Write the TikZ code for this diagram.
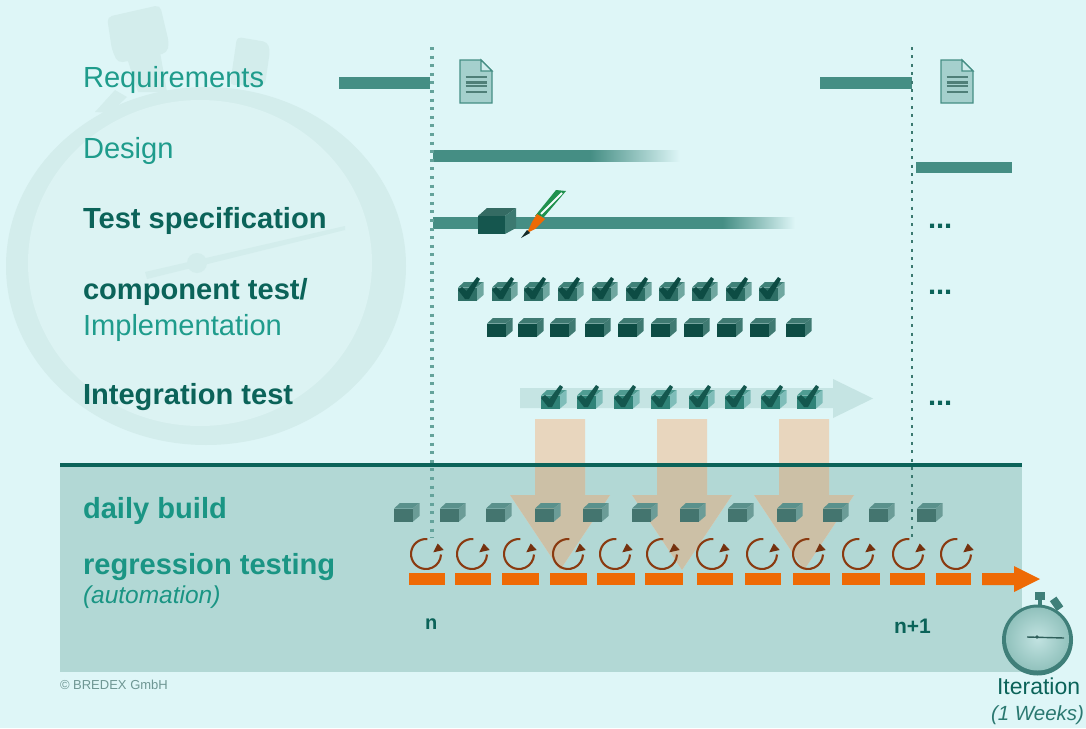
\documentclass[tikz,border=0pt]{standalone}
\usepackage{fontspec}
\setmainfont{Liberation Sans}
\usetikzlibrary{calc}
\definecolor{bgc}{HTML}{DEF6F7}
\definecolor{bandc}{HTML}{B2D8D5}
\definecolor{ringc}{HTML}{D3EDEC}
\definecolor{innerc}{HTML}{DCF3F3}
\definecolor{barc}{HTML}{458E84}
\definecolor{lightt}{HTML}{1F9C8C}
\definecolor{darkt}{HTML}{0B6359}
\definecolor{midt}{HTML}{1A9584}
\definecolor{peach}{HTML}{E8D6BE}
\definecolor{peachd}{HTML}{CCC0A6}
\definecolor{orangec}{HTML}{EE6A05}
\definecolor{brownc}{HTML}{8A3A10}
\definecolor{arrowc}{HTML}{C5E4E3}
\definecolor{implf}{HTML}{0D4C44}
\definecolor{implt}{HTML}{3F7A72}
\definecolor{chkf}{HTML}{2E6F66}
\definecolor{chkt}{HTML}{3F8178}
\definecolor{chks}{HTML}{6FA7A0}
\definecolor{intf}{HTML}{2F8277}
\definecolor{intt}{HTML}{4F9C92}
\definecolor{ints}{HTML}{7FBDB9}
\definecolor{dayf}{HTML}{44756F}
\definecolor{dayt}{HTML}{5A918C}
\definecolor{days}{HTML}{6B9C97}
\definecolor{docf}{HTML}{A5D0CD}
\definecolor{docl}{HTML}{4F7F78}
\definecolor{watchr}{HTML}{3F7F79}
\pgfdeclarehorizontalshading{fadedesign}{100bp}{color(0bp)=(barc); color(56.8bp)=(barc); color(75bp)=(bgc); color(100bp)=(bgc)}
\pgfdeclarehorizontalshading{fadespec}{100bp}{color(0bp)=(barc); color(65bp)=(barc); color(75bp)=(bgc); color(100bp)=(bgc)}
\tikzset{
  lbl/.style={anchor=base west,inner sep=0pt,outer sep=0pt,font=\fontsize{29.1}{30}\selectfont},
  lightlbl/.style={lbl,text=lightt},
  darklbl/.style={lbl,text=darkt,font=\fontsize{29.1}{30}\selectfont\bfseries},
  midlbl/.style={lbl,text=midt,font=\fontsize{29.1}{30}\selectfont\bfseries},
  bar/.style={fill=barc,draw=none},
  orangebar/.style={fill=orangec,draw=none},
}
% x, y (top-left), front, top, side
\newcommand{\bxcube}[5]{%
  \begin{scope}[shift={(#1,#2)}]
    \fill[#4] (0,5.5)--(6,0)--(25.5,0)--(18.5,5.5)--cycle;
    \fill[#5] (18.5,5.5)--(25.5,0)--(25.5,13)--(18.5,19)--cycle;
    \fill[#3] (0,5.5) rectangle (18.5,19);
  \end{scope}}
\newcommand{\bxcheck}[3]{%
  \begin{scope}[shift={(#1,#2)}]
    \fill[#3] (0,8) -- (4,5) -- (8.5,9) -- (19,-5) -- (22,-3) -- (11,17) -- (7,17) -- cycle;
  \end{scope}}
\newcommand{\bxloop}[2]{%
  \begin{scope}[shift={(#1,#2)}]
    \draw[brownc,line width=2.1pt] (-85:15) arc[start angle=-85,end angle=-358,radius=15];
    \fill[brownc!85!black] (7.3,-1.7) -- (17.7,-4) -- (11.7,-10.5) -- cycle;
  \end{scope}}
\newcommand{\bxdoc}[1]{%
  \begin{scope}[shift={(#1,0)}]
    \filldraw[fill=docf,draw=barc,line width=1.3pt] (460,60) -- (481,60) -- (492,71) -- (492,103) -- (460,103) -- cycle;
    \filldraw[fill=bgc!70!bandc,draw=barc,line width=1.1pt] (481,60) -- (481,71) -- (492,71) -- cycle;
    \foreach \ly/\lw in {77/2,82/3,86/2.5,92/2}
      \draw[docl,line width=\lw pt] (465.5,\ly) -- (486.5,\ly);
  \end{scope}}
\newcommand{\bxarrow}[1]{%
  \begin{scope}[shift={(#1,0)}]
    \fill[peach] (535,419) -- (585,419) -- (585,495) -- (610,495) -- (560,570) -- (510,495) -- (535,495) -- cycle;
    \begin{scope}
      \clip (0,465) rectangle (700,672);
      \fill[peachd] (535,419) -- (585,419) -- (585,495) -- (610,495) -- (560,570) -- (510,495) -- (535,495) -- cycle;
    \end{scope}
  \end{scope}}
\begin{document}
\begin{tikzpicture}[x=1pt,y=-1pt]
\useasboundingbox (0,0) rectangle (1086,728);
\fill[bgc] (0,0) rectangle (1086,728);
% background stopwatch
\fill[ringc,rounded corners=5pt] (107,17) -- (160,5) -- (169,43) -- (167,53) -- (118,63) -- (112,50) -- cycle;
\fill[ringc] (127,58) -- (160,52) -- (167,92) -- (138,92) -- cycle;
\fill[ringc,rounded corners=4pt] (237,37) -- (267,42) -- (270,50) -- (265,85) -- (230,85) -- cycle;
\fill[ringc] (95,112) -- (115,90) -- (127,97) -- (110,113) -- cycle;
\fill[ringc] (206,266) ellipse[x radius=200,y radius=179];
\fill[innerc] (200,263) ellipse[x radius=172,y radius=163];
\fill[ringc] (145,272) -- (345,226) -- (345,230) -- (147,279) -- cycle;
\fill[ringc] (197,263) circle[radius=10];
% lower band
\fill[bandc] (60,465) rectangle (1022,672);
% requirement bars
\fill[bar] (339,77) rectangle (430,89);
\fill[bar] (820,77) rectangle (912,89);
\bxdoc{0}
\bxdoc{481}
% design
\shade[shading=fadedesign] (433,150) rectangle (680,161);
\fill[bar] (916,162) rectangle (1012,173);
% test spec
\shade[shading=fadespec] (433,217) rectangle (795,228);
\fill[barc!75!black] (478,216) -- (487,208) -- (516,208) -- (505,216) -- cycle;
\fill[barc!85!black] (505,216) -- (516,208) -- (516,228) -- (505,234) -- cycle;
\fill[implf!85!barc] (478,216) rectangle (505,234);
% pencil
\fill[implf!60!green!60!barc] (535,216) -- (556,190) -- (566,191) -- (544,217) -- cycle;
\draw[white!70!bgc,line width=1.8pt] (541,214) -- (562,193);
\fill[orangec] (527,233) -- (532,222) -- (537,214) -- (545,219) -- (535,229) -- cycle;
\fill[black!70!barc] (521,238) -- (527,230) -- (530,233) -- cycle;
% row of checked cubes
\foreach \cx in {458,492,524,558,592,626,659,692,726,759} {
  \bxcube{\cx}{282}{chkf}{chkt}{chks}
  \bxcheck{\cx}{282}{implf}
}
% row of cubes
\foreach \cx in {487,518,550,585,618,651,684,717,750,786} {
  \bxcube{\cx}{318}{implf}{implt}{implt}
}
% integration arrow
\fill[arrowc] (520,388) -- (833,388) -- (833,379) -- (873,398.5) -- (833,418) -- (833,408) -- (520,408) -- cycle;
\foreach \cx in {541,577,614,651,689,725,761,797} {
  \bxcube{\cx}{390}{intf}{intt}{ints}
  \bxcheck{\cx}{390}{implf!80!intf}
}
% big down arrows
\bxarrow{0}
\bxarrow{122}
\bxarrow{244}
\draw[darkt,line width=4pt] (60,465) -- (1022,465);
% dotted iteration lines
\draw[line width=3.4pt,dash pattern=on 3pt off 5.6pt,barc!80!bgc] (432,47) -- (432,538);
\draw[line width=2.6pt,dash pattern=on 3pt off 5.4pt,barc!85!black] (912,47) -- (912,538);
% daily build cubes
\foreach \cx in {394,440,486,535,583,632,680,728,777,823,869,917} {
  \bxcube{\cx}{503}{dayf}{dayt}{days}
}
% regression loops
\foreach \cx in {426,472,519,568,615,662,712,762,808,858,908,956} {
  \bxloop{\cx}{554}
}
% orange bars
\foreach \bl/\br in {409/445,455/491,502/539,550/587,597/635,645/683,697/733,745/781,793/830,842/880,890/925,936/971} {
  \fill[orangebar] (\bl,573) rectangle (\br,585);
}
\fill[orangec] (982,573) -- (1014,573) -- (1014,566) -- (1040,579) -- (1014,592) -- (1014,585) -- (982,585) -- cycle;
% small stopwatch
\fill[watchr] (1035,592) rectangle (1045,600);
\fill[watchr] (1038,600) rectangle (1042,608);
\fill[watchr,rotate around={35:(1056,603)}] (1052,598) rectangle (1060,610);
\fill[watchr] (1037.5,640) circle[radius=35.5];
\shade[inner color=bgc!35!bandc,outer color=bandc!70!barc] (1037.5,639) circle[radius=31.5];
\draw[watchr!75!black,line width=1.4pt] (1027,637) -- (1064,638);
\fill[watchr!75!black] (1037,637) circle[radius=1.8];
% labels
\node[lightlbl] (req) at (83,87) {Requirements};
\node[lightlbl] (des) at (83,158) {Design};
\node[darklbl] (tsp) at (83,228) {Test specification};
\node[darklbl] (cmp) at (83,299) {component test/};
\node[lightlbl] (imp) at (83,335) {Implementation};
\node[darklbl] (int) at (83,404) {Integration test};
\node[midlbl] (dly) at (83,518) {daily build};
\node[midlbl] (reg) at (83,574) {regression testing};
\node[lbl,text=midt,font=\fontsize{24.5}{26}\selectfont\itshape] (aut) at (83,603) {(automation)};
\node[lbl,text=darkt,font=\fontsize{20}{22}\selectfont\bfseries] (nn) at (425,629) {n};
\node[lbl,text=darkt,font=\fontsize{21}{22}\selectfont\bfseries] (nnp) at (894,633) {n+1};
\node[lbl,text=darkt,font=\fontsize{23}{24}\selectfont] (ite) at (997,694) {Iteration};
\node[lbl,text=darkt!85!bgc,font=\fontsize{20.5}{24}\selectfont\itshape] (wks) at (991,720) {(1 Weeks)};
\node[lbl,text=darkt!40!bgc!80!black,font=\fontsize{13}{14}\selectfont] (brx) at (60,689) {© BREDEX GmbH};
\node[darklbl] (d1) at (928,228) {...};
\node[darklbl] (d2) at (928,294) {...};
\node[darklbl] (d3) at (928,405) {...};
\end{tikzpicture}
\end{document}
